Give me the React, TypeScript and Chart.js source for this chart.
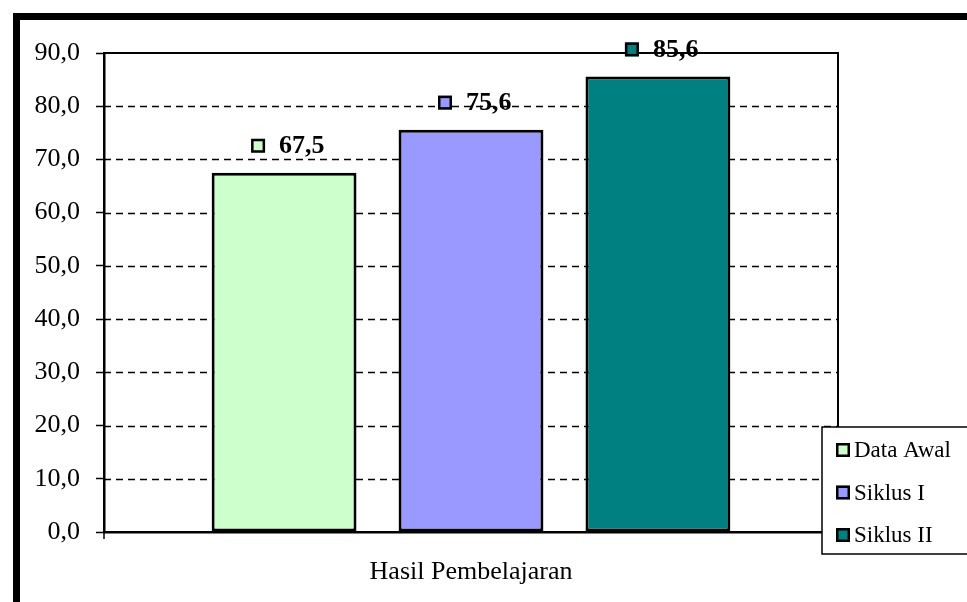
import React, { useEffect, useRef } from "react";
import { Chart, registerables } from "chart.js";

Chart.register(...registerables);

const categories = ["Hasil Pembelajaran"];
const seriesNames = ["Data Awal", "Siklus I", "Siklus II"];
const seriesValues = [67.5, 75.6, 85.6];
const seriesColors = ["#CCFFCC", "#9999FF", "#008080"];
const yMin = 0;
const yMax = 90;
const yStep = 10;

const FONT = "'Liberation Serif', 'Times New Roman', serif";

const fmt = (v: number) => v.toFixed(1).replace(".", ",");

const framePlugin = {
  id: "frame",
  beforeDatasetsDraw(chart: any) {
    const { ctx, chartArea } = chart;
    const y = chart.scales.y;
    ctx.save();
    ctx.strokeStyle = "#000";
    ctx.lineWidth = 1.5;
    ctx.setLineDash([7, 5]);
    y.ticks.forEach((t: any) => {
      if (t.value <= yMin || t.value >= yMax) return;
      const py = Math.round(y.getPixelForValue(t.value)) + 0.5;
      ctx.beginPath();
      ctx.moveTo(chartArea.left, py);
      ctx.lineTo(chartArea.right, py);
      ctx.stroke();
    });
    ctx.setLineDash([]);
    ctx.lineWidth = 2;
    const top = y.getPixelForValue(yMax);
    ctx.beginPath();
    ctx.moveTo(chartArea.left, top);
    ctx.lineTo(chartArea.right, top);
    ctx.lineTo(chartArea.right, chartArea.bottom);
    ctx.stroke();
    ctx.restore();
  },
  afterDatasetsDraw(chart: any) {
    const { ctx } = chart;
    ctx.save();
    chart.data.datasets.forEach((ds: any, i: number) => {
      const meta = chart.getDatasetMeta(i);
      const bar = meta.data[0];
      if (!bar) return;
      const cx = bar.x;
      const cy = bar.y - 27;
      const s = 14;
      const mx = cx - 33;
      ctx.fillStyle = ds.backgroundColor;
      ctx.fillRect(mx, cy - s / 2, s, s);
      ctx.strokeStyle = "#000";
      ctx.lineWidth = 2.5;
      ctx.strokeRect(mx + 1.25, cy - s / 2 + 1.25, s - 2.5, s - 2.5);
      ctx.fillStyle = "#000";
      ctx.font = `bold 26px ${FONT}`;
      ctx.textAlign = "left";
      ctx.textBaseline = "middle";
      ctx.fillText(fmt(ds.data[0]), cx - 5, cy + 1);
    });
    ctx.restore();
  },
  afterDraw(chart: any) {
    const { ctx, chartArea } = chart;
    ctx.save();
    // small tick below x axis at left
    ctx.strokeStyle = "#000";
    ctx.lineWidth = 1.5;
    ctx.beginPath();
    ctx.moveTo(chartArea.left, chartArea.bottom);
    ctx.lineTo(chartArea.left, chartArea.bottom + 7);
    ctx.stroke();

    // legend box
    const lx = 822;
    const ly = 427;
    const lb = 554;
    ctx.fillStyle = "#fff";
    ctx.fillRect(lx, ly, 2000, lb - ly);
    ctx.lineWidth = 1.5;
    ctx.strokeStyle = "#000";
    ctx.strokeRect(lx, ly, 2000, lb - ly);
    chart.data.datasets.forEach((ds: any, i: number) => {
      const cy = 450 + i * 42.5;
      const s = 14;
      ctx.fillStyle = ds.backgroundColor;
      ctx.fillRect(836, cy - s / 2, s, s);
      ctx.lineWidth = 2.5;
      ctx.strokeRect(837.25, cy - s / 2 + 1.25, s - 2.5, s - 2.5);
      ctx.fillStyle = "#000";
      ctx.font = `23px ${FONT}`;
      ctx.textAlign = "left";
      ctx.textBaseline = "middle";
      ctx.fillText(ds.label, 854, cy + 1);
    });

    // outer thick frame
    ctx.lineWidth = 7;
    ctx.strokeStyle = "#000";
    ctx.strokeRect(16.5, 16.5, 3000, 3000);
    ctx.restore();
  },
};

export default function App() {
  const ref = useRef<HTMLCanvasElement | null>(null);
  useEffect(() => {
    if (!ref.current) return;
    const chart = new Chart(ref.current, {
      type: "bar",
      data: {
        labels: categories,
        datasets: seriesNames.map((name, i) => ({
          label: name,
          data: [seriesValues[i]],
          backgroundColor: seriesColors[i],
          borderColor: "#000",
          borderWidth: 3,
          borderSkipped: false,
          categoryPercentage: 0.764,
          barPercentage: 0.775,
        })),
      },
      options: {
        animation: false,
        responsive: true,
        maintainAspectRatio: false,
        layout: { padding: { left: 0, top: 53, right: 129, bottom: 0 } },
        plugins: {
          legend: { display: false },
          tooltip: { enabled: false },
          title: { display: false },
        },
        scales: {
          x: {
            type: "category",
            offset: true,
            grid: { display: false, drawTicks: false },
            border: { display: true, color: "#000", width: 2.5 },
            ticks: {
              color: "#000",
              font: { family: FONT, size: 26 },
              padding: 25,
              maxRotation: 0,
            },
            afterFit: (s: any) => {
              s.height = 70;
            },
          },
          y: {
            min: yMin,
            max: yMax,
            grid: {
              drawOnChartArea: false,
              drawTicks: true,
              tickLength: 8,
              tickColor: "#000",
              tickWidth: 1.5,
            },
            border: { display: true, color: "#000", width: 2.5 },
            ticks: {
              stepSize: yStep,
              color: "#000",
              font: { family: FONT, size: 26 },
              padding: 16,
              callback: (v: any) => fmt(Number(v)),
            },
            afterFit: (s: any) => {
              s.width = 104;
            },
          },
        },
      },
      plugins: [framePlugin],
    });
    return () => chart.destroy();
  }, []);
  return (
    <div
      style={{
        position: "absolute",
        left: 0,
        top: 0,
        width: 967,
        height: 602,
        background: "#fff",
      }}
    >
      <canvas ref={ref} />
    </div>
  );
}
